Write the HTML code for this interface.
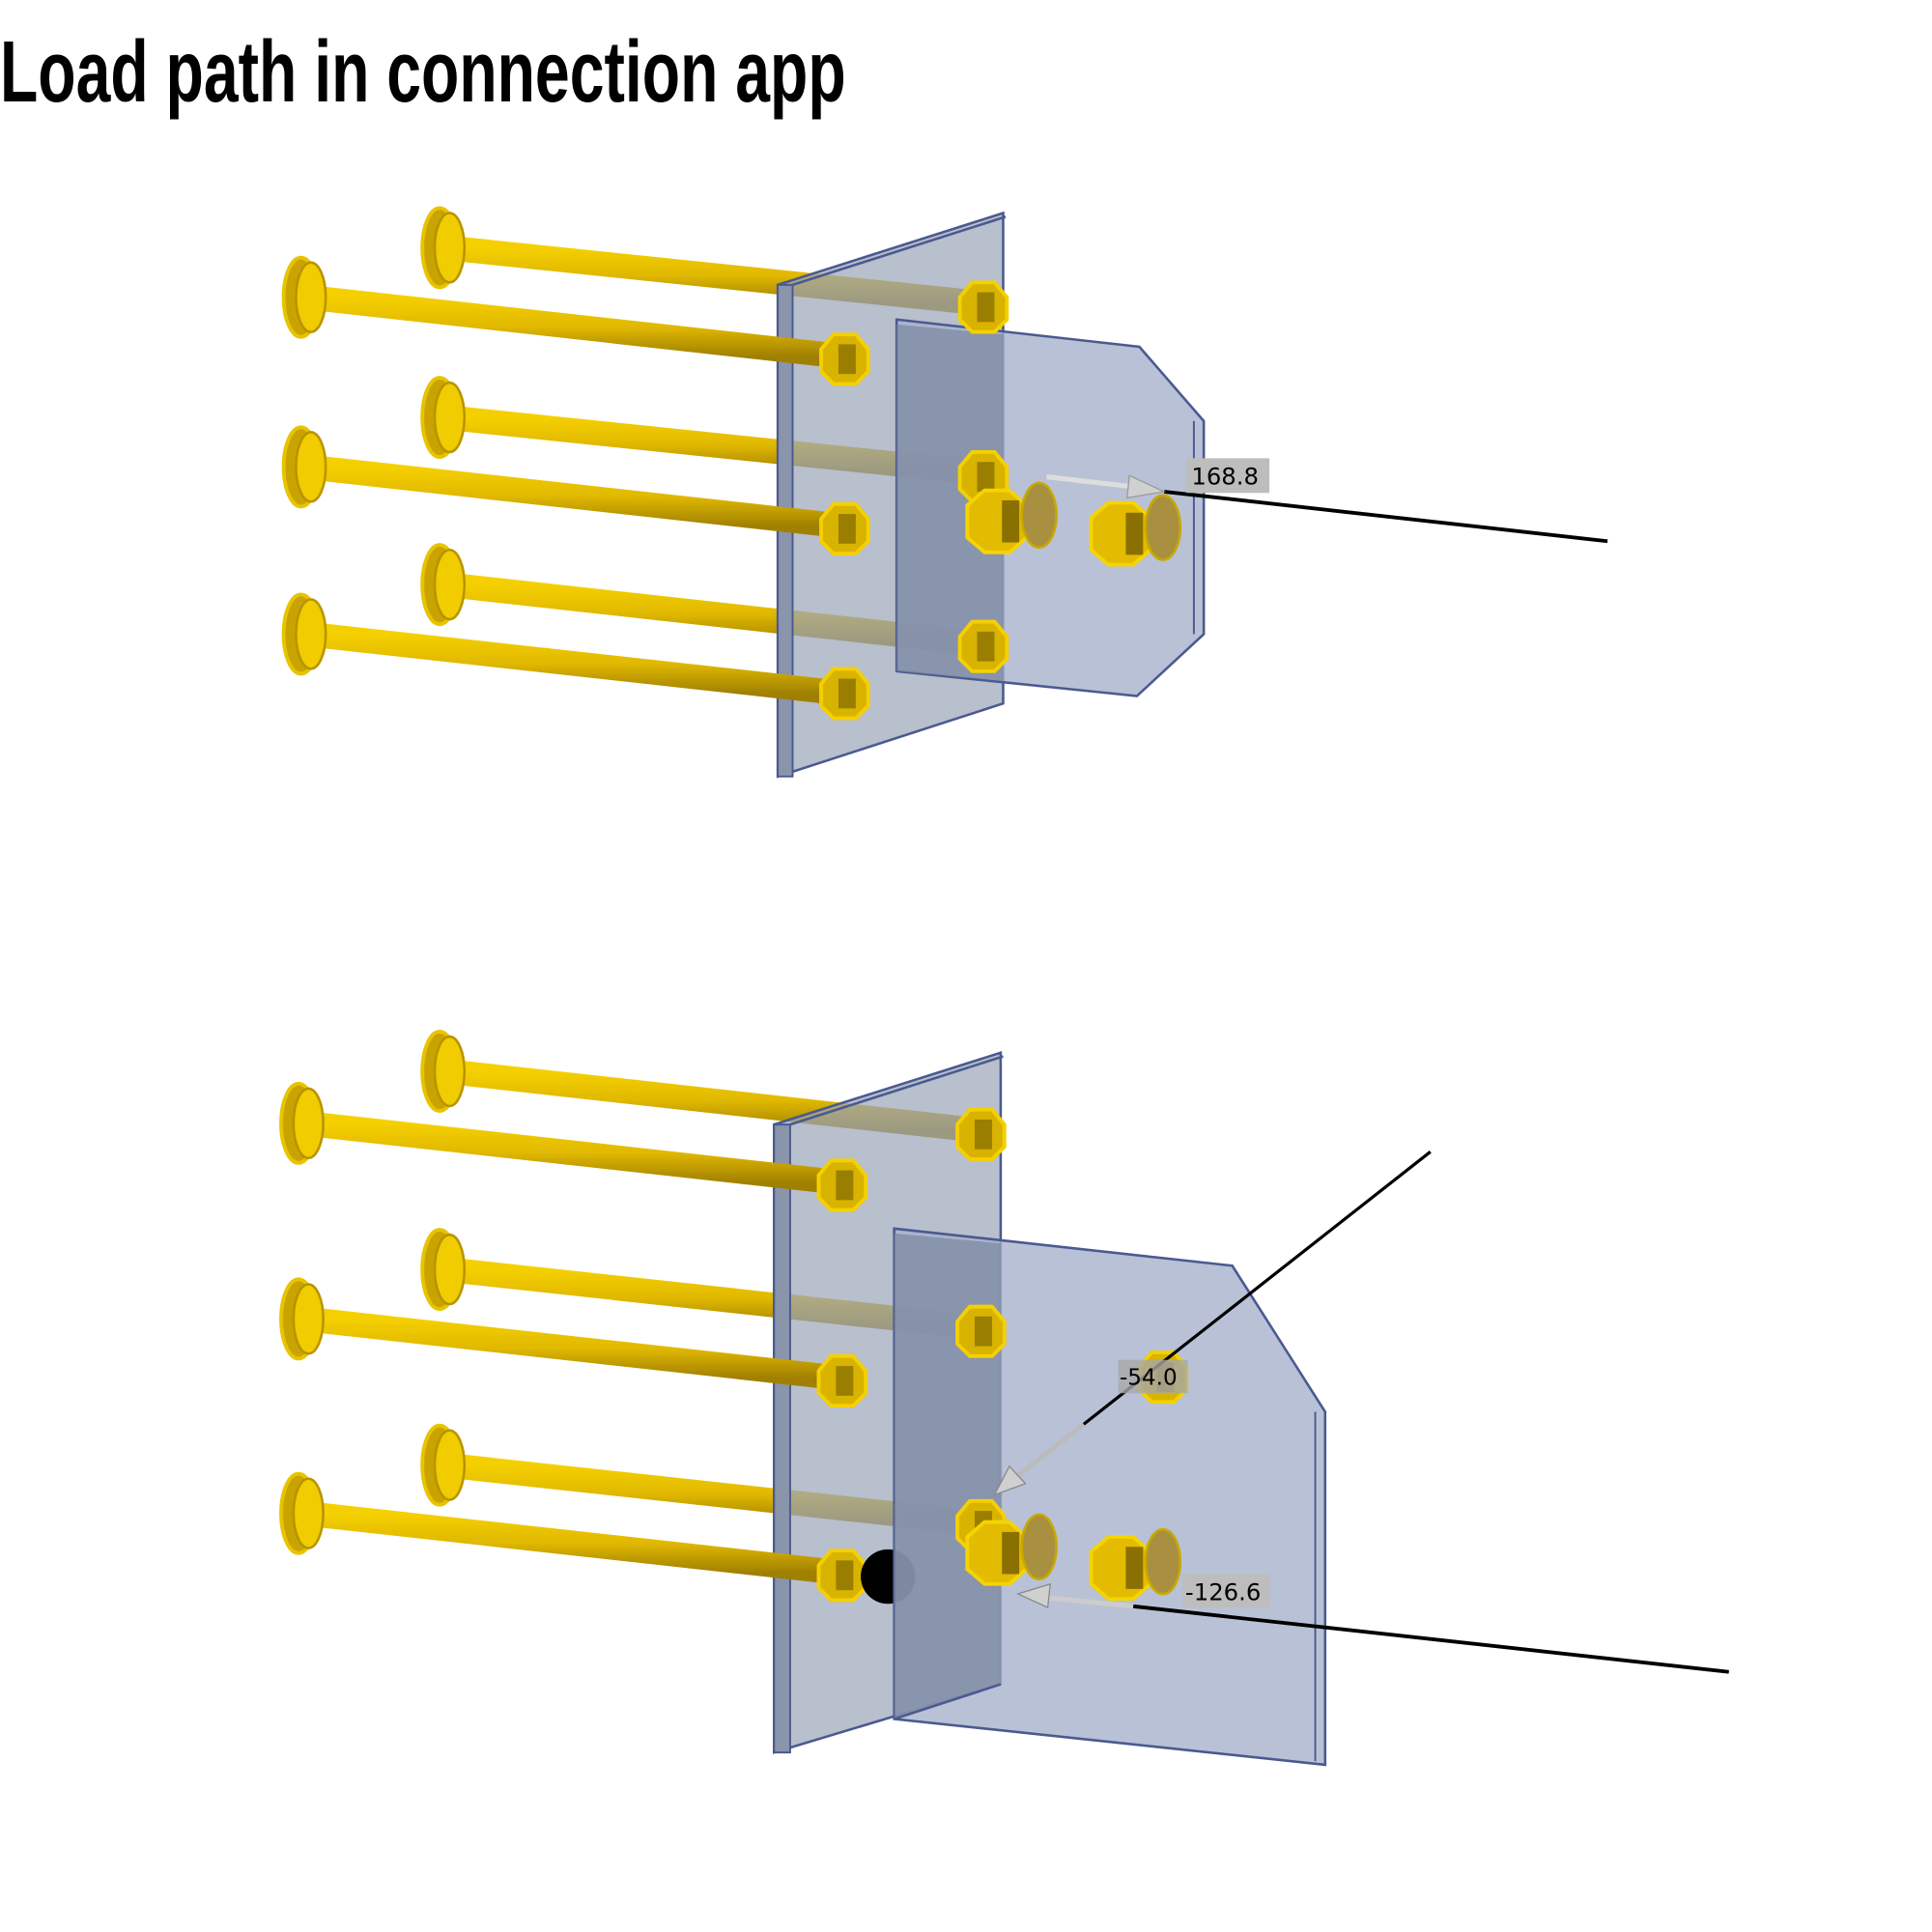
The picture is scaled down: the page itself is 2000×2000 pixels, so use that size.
<!DOCTYPE html>
<html><head><meta charset="utf-8"><style>
html,body{margin:0;padding:0;background:#fff;}
svg{display:block;}
</style></head><body>
<svg width="2000" height="2000" viewBox="0 0 1560 1560" xmlns="http://www.w3.org/2000/svg">
<defs>
<linearGradient id="rod" x1="0" y1="0" x2="0" y2="1">
<stop offset="0" stop-color="#f5d000"/><stop offset="0.5" stop-color="#e0b800"/><stop offset="1" stop-color="#a08000"/>
</linearGradient>
<g id="head">
<ellipse cx="0" cy="0" rx="14" ry="32" fill="#c9a400" stroke="#e8c400" stroke-width="3"/>
<ellipse cx="8" cy="0" rx="12" ry="28" fill="#f0cc00" stroke="#b89400" stroke-width="2"/>
</g>
<g id="nut">
<polygon points="-20,-8 -10,-20 8,-20 18,-8 18,10 8,20 -10,20 -20,10" fill="#d8b300" stroke="#f5d000" stroke-width="3"/>
<rect x="-6" y="-12" width="14" height="24" fill="#9a7e00"/>
</g>
<g id="hexbolt">
<polygon points="-24,-14 -10,-26 10,-26 24,-14 24,12 10,24 -10,24 -24,12" fill="#e3bb00" stroke="#f5d400" stroke-width="3"/>
<rect x="4" y="-18" width="14" height="34" fill="#8a7000"/>
<ellipse cx="34" cy="-6" rx="14" ry="26" fill="#a89040" stroke="#c8a800" stroke-width="2"/>
</g>
</defs>

<text x="0" y="82" font-family="'Liberation Sans Narrow','Liberation Sans',sans-serif" font-weight="bold" font-size="70" textLength="683" lengthAdjust="spacingAndGlyphs" fill="#000">Load path in connection app</text>

<!-- ===== TOP ===== -->
<g>
<!-- back rods -->
<g stroke-linecap="round">
<line x1="360" y1="200" x2="795" y2="245" stroke="url(#rod)" stroke-width="20"/>
<line x1="360" y1="337" x2="795" y2="382" stroke="url(#rod)" stroke-width="20"/>
<line x1="360" y1="472" x2="795" y2="520" stroke="url(#rod)" stroke-width="20"/>
</g>
<use href="#head" x="355" y="200"/><use href="#head" x="355" y="337"/><use href="#head" x="355" y="472"/>
<!-- main plate -->
<polygon points="628,230 810,172 810,568 628,627" fill="#9aa4b8" fill-opacity="0.7" stroke="#4a5a90" stroke-width="2"/>
<polygon points="628,230 640,230 640,627 628,627" fill="#8a94aa" stroke="#4a5a90" stroke-width="1.5"/>
<line x1="640" y1="230" x2="812" y2="175" stroke="#4a5a90" stroke-width="2"/>
<!-- front rods -->
<g stroke-linecap="round">
<line x1="248" y1="240" x2="683" y2="288" stroke="url(#rod)" stroke-width="20"/>
<line x1="248" y1="377" x2="683" y2="425" stroke="url(#rod)" stroke-width="20"/>
<line x1="248" y1="512" x2="683" y2="560" stroke="url(#rod)" stroke-width="20"/>
</g>
<use href="#head" x="243" y="240"/><use href="#head" x="243" y="377"/><use href="#head" x="243" y="512"/>
<use href="#nut" x="683" y="290"/><use href="#nut" x="683" y="427"/><use href="#nut" x="683" y="560"/>
<!-- fin plate -->
<polygon points="724,258 920,280 972,340 972,512 918,562 724,542" fill="#a8b2cc" fill-opacity="0.8" stroke="#4a5a90" stroke-width="2"/>
<polygon points="724,262 810,270 810,550 724,542" fill="#7a86a0" fill-opacity="0.7"/>
<line x1="964" y1="340" x2="964" y2="512" stroke="#4a5a90" stroke-width="1.5"/>
<use href="#nut" x="795" y="248"/><use href="#nut" x="795" y="385"/><use href="#nut" x="795" y="522"/>
<use href="#hexbolt" x="805" y="422"/><use href="#hexbolt" x="905" y="432"/>
<!-- load line -->
<line x1="940" y1="397" x2="1298" y2="437" stroke="#000" stroke-width="3"/>
<line x1="845" y1="385" x2="915" y2="393" stroke="#ddd" stroke-width="4"/>
<polygon points="912,384 940,397 910,402" fill="#d0d0d0" stroke="#999"/>
<rect x="958" y="370" width="67" height="28" fill="#bdbdbd"/>
<text x="962" y="391" font-family="'DejaVu Sans',sans-serif" font-size="19" fill="#000">168.8</text>
</g>

<!-- ===== BOTTOM ===== -->
<g>
<g stroke-linecap="round">
<line x1="360" y1="865" x2="793" y2="913" stroke="url(#rod)" stroke-width="20"/>
<line x1="360" y1="1025" x2="793" y2="1072" stroke="url(#rod)" stroke-width="20"/>
<line x1="360" y1="1183" x2="793" y2="1230" stroke="url(#rod)" stroke-width="20"/>
</g>
<use href="#head" x="355" y="865"/><use href="#head" x="355" y="1025"/><use href="#head" x="355" y="1183"/>
<polygon points="625,908 808,850 808,1360 625,1415" fill="#9aa4b8" fill-opacity="0.7" stroke="#4a5a90" stroke-width="2"/>
<polygon points="625,908 638,908 638,1415 625,1415" fill="#8a94aa" stroke="#4a5a90" stroke-width="1.5"/>
<line x1="638" y1="908" x2="810" y2="853" stroke="#4a5a90" stroke-width="2"/>
<g stroke-linecap="round">
<line x1="246" y1="907" x2="681" y2="955" stroke="url(#rod)" stroke-width="20"/>
<line x1="246" y1="1065" x2="681" y2="1113" stroke="url(#rod)" stroke-width="20"/>
<line x1="246" y1="1222" x2="681" y2="1270" stroke="url(#rod)" stroke-width="20"/>
</g>
<use href="#head" x="241" y="907"/><use href="#head" x="241" y="1065"/><use href="#head" x="241" y="1222"/>
<use href="#nut" x="681" y="957"/><use href="#nut" x="681" y="1115"/><use href="#nut" x="681" y="1272"/>
<circle cx="717" cy="1273" r="22" fill="#000"/>
<polygon points="722,992 995,1022 1070,1140 1070,1425 722,1388" fill="#a8b2cc" fill-opacity="0.8" stroke="#4a5a90" stroke-width="2"/>
<polygon points="722,996 808,1004 808,1360 722,1388" fill="#7a86a0" fill-opacity="0.7"/>
<line x1="1062" y1="1140" x2="1062" y2="1422" stroke="#4a5a90" stroke-width="1.5"/>
<line x1="722" y1="1388" x2="808" y2="1360" stroke="#4a5a90" stroke-width="2"/>
<use href="#nut" x="793" y="916"/><use href="#nut" x="793" y="1075"/><use href="#nut" x="793" y="1232"/>
<use href="#hexbolt" x="805" y="1255"/><use href="#hexbolt" x="905" y="1267"/>
<use href="#nut" x="940" y="1112"/>
<!-- lines -->
<line x1="1155" y1="930" x2="875" y2="1150" stroke="#000" stroke-width="2.5"/>
<line x1="875" y1="1150" x2="820" y2="1193" stroke="#bbb" stroke-width="4"/>
<polygon points="803,1207 815,1184 828,1198" fill="#d0d0d0" stroke="#888"/>
<rect x="903" y="1098" width="56" height="27" fill="#a8a8a8" fill-opacity="0.8"/>
<text x="904" y="1118" font-family="'DejaVu Sans',sans-serif" font-size="18" fill="#000">-54.0</text>
<line x1="915" y1="1297" x2="1396" y2="1350" stroke="#000" stroke-width="3"/>
<line x1="915" y1="1297" x2="845" y2="1290" stroke="#ccc" stroke-width="4"/>
<polygon points="822,1287 848,1279 846,1298" fill="#d0d0d0" stroke="#888"/>
<rect x="955" y="1271" width="70" height="27" fill="#bdbdbd"/>
<text x="957" y="1292" font-family="'DejaVu Sans',sans-serif" font-size="19" fill="#000">-126.6</text>
</g>
</svg>
</body></html>
